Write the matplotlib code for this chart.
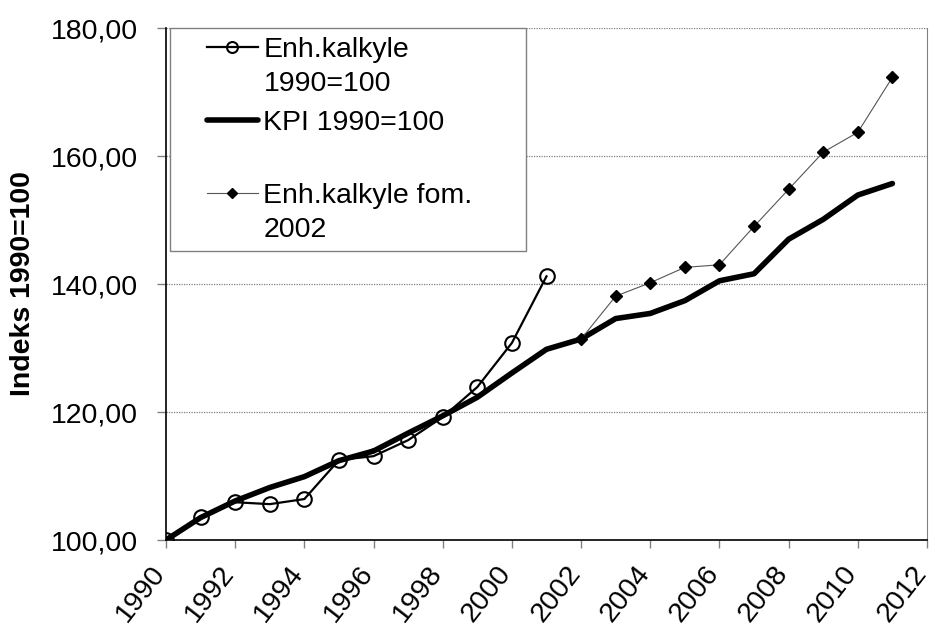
import matplotlib
matplotlib.use("Agg")
import matplotlib.pyplot as plt
from matplotlib.legend_handler import HandlerLine2D

# ---- data ----
years_enh = [1990, 1991, 1992, 1993, 1994, 1995, 1996, 1997, 1998, 1999, 2000, 2001]
enh = [100.0, 103.6, 105.9, 105.6, 106.4, 112.5, 113.1, 115.6, 119.2, 123.9, 130.8, 141.2]

years_kpi = list(range(1990, 2012))
kpi = [100.0, 103.5, 106.1, 108.2, 109.9, 112.4, 113.9, 116.7, 119.4, 122.3, 126.1, 129.8,
       131.4, 134.6, 135.4, 137.4, 140.5, 141.6, 147.0, 150.1, 153.9, 155.7]

years_fom = list(range(2002, 2012))
fom = [131.4, 138.1, 140.2, 142.6, 143.0, 149.0, 154.8, 160.6, 163.7, 172.3]

xticks = list(range(1990, 2013, 2))
yticks = [100, 120, 140, 160, 180]
ytick_labels = ["100,00", "120,00", "140,00", "160,00", "180,00"]

label_enh = "Enh.kalkyle\n1990=100"
label_kpi = "KPI 1990=100\n"
label_fom = "Enh.kalkyle fom.\n2002"
ylabel = "Indeks 1990=100"

plt.rcParams['font.family'] = ['Liberation Sans', 'DejaVu Sans']
FS = 20.5


class ShiftedLineHandler(HandlerLine2D):
    """Line legend handler whose sample is moved up (in fontsize units)."""
    def __init__(self, up=0.0, **kw):
        super().__init__(**kw)
        self.up = up

    def create_artists(self, legend, orig_handle, xdescent, ydescent, width,
                       height, fontsize, trans):
        return super().create_artists(legend, orig_handle, xdescent,
                                      ydescent - 2 * self.up * fontsize,
                                      width, height, fontsize, trans)


fig = plt.figure(figsize=(9.35, 6.27), dpi=100)
ax = fig.add_axes([166/935, 1 - 540/627, (927-166)/935, (540-28)/627])

l1, = ax.plot(years_enh, enh, color='black', lw=1.6, marker='o', ms=10.5,
              mfc='none', mec='black', mew=1.5, zorder=4, label=label_enh)
l2, = ax.plot(years_kpi, kpi, color='black', lw=4.0, solid_capstyle='round',
              solid_joinstyle='round', zorder=3, label=label_kpi)
l3, = ax.plot(years_fom, fom, color='#555555', lw=0.8, marker='D', ms=6.5,
              mfc='black', mec='black', zorder=5, label=label_fom)

ax.set_xlim(1990, 2012)
ax.set_ylim(100, 180)
ax.set_xticks(xticks)
ax.set_xticklabels([str(x) for x in xticks], rotation=52, ha='right', va='baseline',
                   rotation_mode='anchor', fontsize=FS)
ax.set_yticks(yticks)
ax.set_yticklabels(ytick_labels, fontsize=FS)
ax.tick_params(axis='x', length=6, width=1, color='#808080', pad=18, direction='out')
ax.tick_params(axis='y', length=6.5, width=1, color='#808080', pad=14, direction='out')

ax.yaxis.grid(True, linestyle=(0, (1, 1)), color='#808080', linewidth=0.9)
ax.set_axisbelow(True)

ax.spines['top'].set_visible(False)
ax.spines['right'].set_color('#808080')
ax.spines['left'].set_color('black')
ax.spines['bottom'].set_color('black')
ax.spines['left'].set_linewidth(1.2)
ax.spines['bottom'].set_linewidth(1.2)

ax.set_ylabel(ylabel, fontsize=FS, fontweight='bold')
ax.yaxis.set_label_coords(-0.171, 0.5)

UP = 0.68
hm = {l1: ShiftedLineHandler(up=UP, xpad=1.0),
      l2: ShiftedLineHandler(up=UP, xpad=1.0),
      l3: ShiftedLineHandler(up=UP, xpad=1.0)}
leg = ax.legend(handles=[l1, l2, l3], loc='upper left',
                bbox_to_anchor=(0.005, 0.568, 0.468, 0.432), mode='expand',
                borderaxespad=0, fontsize=FS, frameon=True, fancybox=False,
                edgecolor='#808080', framealpha=1, handlelength=2.79,
                handletextpad=0.2, labelspacing=0.46, borderpad=0.3,
                markerscale=0.75, handler_map=hm)
leg.get_frame().set_linewidth(1.0)
for t in leg.get_texts():
    t.set_linespacing(1.40)
leg.set_zorder(6)

fig.savefig("out.png", dpi=100)
